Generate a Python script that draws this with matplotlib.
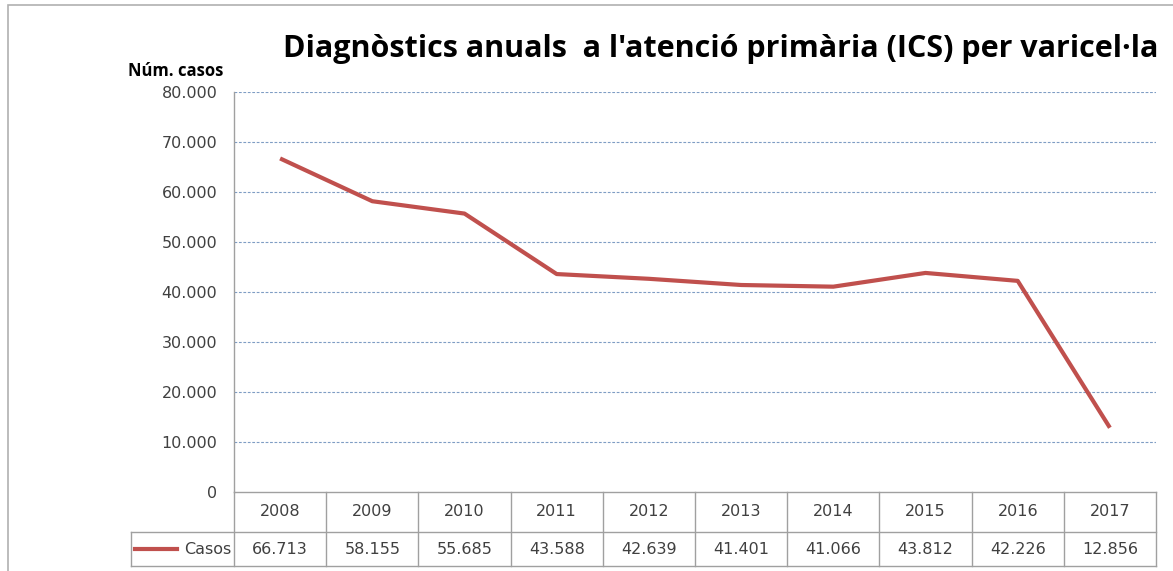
import matplotlib.pyplot as plt
from matplotlib.patches import Rectangle
from matplotlib.transforms import blended_transform_factory

# data
years = ["2008", "2009", "2010", "2011", "2012", "2013", "2014", "2015", "2016", "2017"]
cases = [66713, 58155, 55685, 43588, 42639, 41401, 41066, 43812, 42226, 12856]
y_ticks = [0, 10000, 20000, 30000, 40000, 50000, 60000, 70000, 80000]

LINE_RED = "#C0504D"
GRID_BLUE = "#7F9DC4"
TXT = "#404040"
EDGE = "#A0A0A0"
FS = 11.5


def fmt_thousands(v):
    return f"{v:,}".replace(",", ".")


fig = plt.figure(figsize=(11.73, 5.71), dpi=100)
fig.patch.set_facecolor("white")

# outer chart frame (cut on the right and bottom)
fig.patches.append(Rectangle((8 / 1173, -0.1), 1.2, 1.1 - 5 / 571,
                             transform=fig.transFigure, fill=False,
                             edgecolor="#B0B0B0", linewidth=1.2))

ax = fig.add_axes([234 / 1173, 79 / 571, 922 / 1173, 400 / 571])
n = len(years)
xs = [i + 0.5 for i in range(n)]

for t in y_ticks[1:]:
    ax.axhline(t, color=GRID_BLUE, linewidth=0.8, linestyle=(0, (2.5, 1.5)), zorder=1)

ax.plot(xs, cases, color=LINE_RED, linewidth=3, zorder=3, solid_capstyle="butt")

ax.set_xlim(0, n)
ax.set_ylim(0, 80000)
ax.set_yticks(y_ticks)
ax.set_yticklabels([fmt_thousands(t) for t in y_ticks], fontsize=FS, color=TXT)
ax.tick_params(axis="y", length=0, pad=12)
ax.set_xticks([])
for side in ("top", "right", "bottom"):
    ax.spines[side].set_visible(False)
ax.spines["left"].set_color(EDGE)
ax.spines["left"].set_linewidth(1)

# data table under the plot
trans = blended_transform_factory(ax.transData, ax.transAxes)
row1, row2 = -0.10, -0.185
left = -1.115

def hline(x0, x1, y):
    ax.plot([x0, x1], [y, y], color=EDGE, linewidth=1, transform=trans, clip_on=False)

def vline(x, y0, y1):
    ax.plot([x, x], [y0, y1], color=EDGE, linewidth=1, transform=trans, clip_on=False)

hline(0, n, 0)
hline(left, n, row1)
hline(left, n, row2)
for i in range(n + 1):
    vline(i, 0, row2)
vline(left, row1, row2)

for i, (yr, val) in enumerate(zip(years, cases)):
    ax.text(i + 0.5, (0 + row1) / 2, yr, transform=trans, ha="center", va="center",
            fontsize=FS, color=TXT)
    ax.text(i + 0.5, (row1 + row2) / 2, fmt_thousands(val), transform=trans,
            ha="center", va="center", fontsize=FS, color=TXT)

# legend key inside the table
ymid = (row1 + row2) / 2
ax.plot([left + 0.04, left + 0.5], [ymid, ymid], color=LINE_RED, linewidth=3,
        transform=trans, clip_on=False)
ax.text(-0.03, ymid, "Casos", transform=trans, ha="right", va="center",
        fontsize=FS, color=TXT)

fig.text(283 / 1173, 1 - 57 / 571,
         "Diagnòstics anuals  a l'atenció primària (ICS) per varicel·la",
         fontsize=22, fontweight="bold", family="Open Sans", ha="left", va="baseline",
         color="black")
fig.text(128 / 1173, 1 - 76 / 571, "Núm. casos", fontsize=12, fontweight="bold",
         family="Open Sans", ha="left", va="baseline", color="black")

fig.savefig("out.png", dpi=100)
